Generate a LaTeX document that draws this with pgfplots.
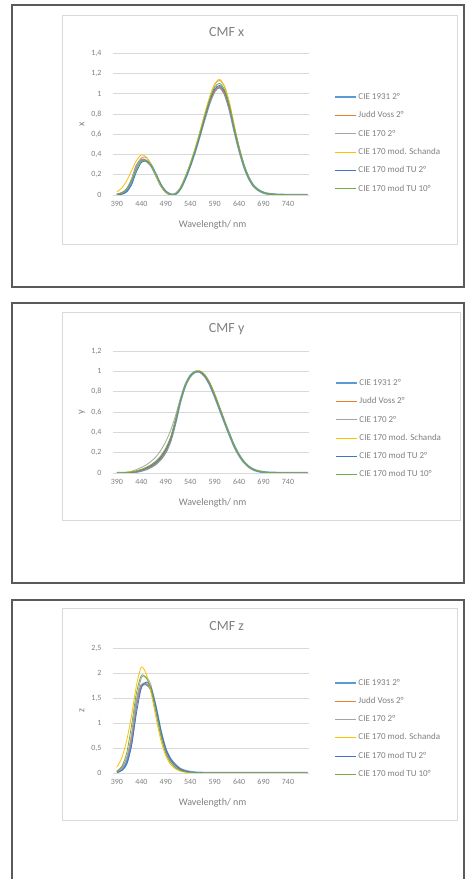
\documentclass[border=0pt]{standalone}
\usepackage{fontspec}
\setmainfont{Carlito}
\usepackage{pgfplots}
\usepackage{pgfplotstable}
\pgfplotsset{compat=1.18}
\definecolor{c1}{HTML}{5B9BD5}
\definecolor{c2}{HTML}{ED7D31}
\definecolor{c3}{HTML}{A5A5A5}
\definecolor{c4}{HTML}{FFC000}
\definecolor{c5}{HTML}{4472C4}
\definecolor{c6}{HTML}{70AD47}
\definecolor{gridgray}{HTML}{D9D9D9}
\definecolor{txtgray}{HTML}{808080}
\definecolor{boxgray}{HTML}{5A5A5A}

% columns: lam, CIE1931, JuddVoss, CIE170, Schanda, TU2, TU10
\pgfplotstableread{
lam a b c d e f
390 0.0042 0.0080 0.0038 0.0300 0.0020 0.0050
400 0.0143 0.0250 0.0190 0.0700 0.0080 0.0200
410 0.0435 0.0600 0.0640 0.1400 0.0300 0.0600
420 0.1344 0.1450 0.1600 0.2400 0.1000 0.1400
430 0.2839 0.2880 0.2800 0.3400 0.2300 0.2500
440 0.3483 0.3500 0.3650 0.3950 0.3200 0.3300
450 0.3362 0.3370 0.3700 0.3750 0.3350 0.3400
460 0.2908 0.2910 0.3050 0.3000 0.2950 0.2950
470 0.1954 0.1955 0.2000 0.1900 0.2050 0.2000
480 0.0956 0.0957 0.0950 0.0900 0.1050 0.0980
490 0.0320 0.0320 0.0300 0.0280 0.0380 0.0330
500 0.0049 0.0049 0.0040 0.0040 0.0060 0.0050
510 0.0093 0.0093 0.0110 0.0110 0.0080 0.0100
520 0.0633 0.0633 0.0700 0.0700 0.0580 0.0650
530 0.1655 0.1655 0.1750 0.1760 0.1600 0.1700
540 0.2904 0.2904 0.3050 0.3060 0.2850 0.2980
550 0.4334 0.4334 0.4550 0.4570 0.4300 0.4450
560 0.5945 0.5945 0.6250 0.6280 0.5950 0.6100
570 0.7621 0.7621 0.8000 0.8050 0.7700 0.7850
580 0.9163 0.9163 0.9650 0.9700 0.9300 0.9450
590 1.0263 1.0263 1.0900 1.0950 1.0450 1.0650
600 1.0622 1.0622 1.1300 1.1400 1.0800 1.1000
610 1.0026 1.0026 1.0700 1.0750 1.0250 1.0400
620 0.8545 0.8545 0.9100 0.9150 0.8750 0.8850
630 0.6424 0.6424 0.6850 0.6880 0.6600 0.6650
640 0.4479 0.4479 0.4700 0.4720 0.4600 0.4600
650 0.2835 0.2835 0.2950 0.2960 0.2900 0.2900
660 0.1649 0.1649 0.1700 0.1710 0.1680 0.1680
670 0.0874 0.0874 0.0900 0.0900 0.0890 0.0890
680 0.0468 0.0468 0.0470 0.0470 0.0470 0.0470
690 0.0227 0.0227 0.0230 0.0230 0.0230 0.0230
700 0.0114 0.0114 0.0110 0.0110 0.0115 0.0115
720 0.0029 0.0029 0.0030 0.0030 0.0030 0.0030
750 0.0003 0.0003 0.0003 0.0003 0.0003 0.0003
780 0.0000 0.0000 0.0000 0.0000 0.0000 0.0000
}\tabx

\pgfplotstableread{
lam a b c d e f
390 0.0001 0.0003 0.0004 0.0010 0.0002 0.0003
400 0.0004 0.0010 0.0020 0.0030 0.0008 0.0012
410 0.0012 0.0026 0.0070 0.0070 0.0025 0.0035
420 0.0040 0.0060 0.0175 0.0130 0.0070 0.0090
430 0.0116 0.0130 0.0340 0.0230 0.0160 0.0190
440 0.0230 0.0240 0.0550 0.0370 0.0300 0.0350
450 0.0380 0.0390 0.0800 0.0550 0.0480 0.0550
460 0.0600 0.0600 0.1150 0.0800 0.0720 0.0820
470 0.0910 0.0910 0.1600 0.1150 0.1050 0.1180
480 0.1390 0.1390 0.2250 0.1650 0.1550 0.1700
490 0.2080 0.2080 0.3100 0.2400 0.2300 0.2450
500 0.3230 0.3230 0.4200 0.3500 0.3400 0.3550
510 0.5030 0.5030 0.5650 0.5200 0.5100 0.5200
520 0.7100 0.7100 0.7300 0.7150 0.7100 0.7150
530 0.8620 0.8620 0.8600 0.8600 0.8600 0.8620
540 0.9540 0.9540 0.9450 0.9500 0.9500 0.9520
550 0.9950 0.9950 0.9900 0.9950 0.9930 0.9950
560 0.9950 0.9950 1.0000 1.0050 0.9980 1.0000
570 0.9520 0.9520 0.9650 0.9650 0.9580 0.9620
580 0.8700 0.8700 0.8900 0.8850 0.8780 0.8830
590 0.7570 0.7570 0.7800 0.7750 0.7650 0.7720
600 0.6310 0.6310 0.6500 0.6450 0.6380 0.6420
610 0.5030 0.5030 0.5150 0.5120 0.5080 0.5100
620 0.3810 0.3810 0.3850 0.3850 0.3830 0.3840
630 0.2650 0.2650 0.2700 0.2680 0.2660 0.2680
640 0.1750 0.1750 0.1780 0.1760 0.1760 0.1770
650 0.1070 0.1070 0.1090 0.1080 0.1080 0.1080
660 0.0610 0.0610 0.0620 0.0620 0.0615 0.0620
670 0.0320 0.0320 0.0330 0.0320 0.0322 0.0325
680 0.0170 0.0170 0.0170 0.0170 0.0170 0.0170
690 0.0082 0.0082 0.0083 0.0082 0.0082 0.0082
700 0.0041 0.0041 0.0041 0.0041 0.0041 0.0041
720 0.0010 0.0010 0.0010 0.0010 0.0010 0.0010
750 0.0001 0.0001 0.0001 0.0001 0.0001 0.0001
780 0.0000 0.0000 0.0000 0.0000 0.0000 0.0000
}\taby

\pgfplotstableread{
lam a b c d e f
390 0.0201 0.0400 0.0170 0.1200 0.0100 0.0300
400 0.0679 0.1200 0.0880 0.3000 0.0500 0.1300
410 0.2074 0.3000 0.3000 0.6500 0.1800 0.4000
420 0.6456 0.7000 0.7800 1.1500 0.5500 0.9500
430 1.3856 1.3900 1.4500 1.7500 1.2000 1.6000
440 1.7471 1.7500 1.9000 2.1200 1.7000 1.9500
450 1.7721 1.7800 1.9200 1.9800 1.8200 1.9000
460 1.6692 1.6700 1.7500 1.6000 1.7000 1.6800
470 1.2876 1.2880 1.2500 1.1000 1.3200 1.2200
480 0.8130 0.8130 0.7500 0.6500 0.8500 0.7500
490 0.4652 0.4652 0.4100 0.3400 0.4800 0.4000
500 0.2720 0.2720 0.2200 0.1700 0.2700 0.2100
510 0.1582 0.1582 0.1150 0.0800 0.1500 0.1050
520 0.0783 0.0783 0.0550 0.0350 0.0750 0.0500
530 0.0422 0.0422 0.0260 0.0150 0.0380 0.0240
540 0.0203 0.0203 0.0120 0.0060 0.0180 0.0110
550 0.0088 0.0088 0.0055 0.0025 0.0080 0.0050
560 0.0039 0.0039 0.0025 0.0010 0.0035 0.0020
570 0.0021 0.0021 0.0010 0.0000 0.0015 0.0000
580 0.0017 0.0017 0.0005 0.0000 0.0008 0.0000
590 0.0011 0.0011 0.0000 0.0000 0.0000 0.0000
600 0.0008 0.0008 0.0000 0.0000 0.0000 0.0000
610 0.0003 0.0003 0.0000 0.0000 0.0000 0.0000
620 0.0002 0.0002 0.0000 0.0000 0.0000 0.0000
630 0.0000 0.0000 0.0000 0.0000 0.0000 0.0000
640 0.0000 0.0000 0.0000 0.0000 0.0000 0.0000
650 0.0000 0.0000 0.0000 0.0000 0.0000 0.0000
660 0.0000 0.0000 0.0000 0.0000 0.0000 0.0000
670 0.0000 0.0000 0.0000 0.0000 0.0000 0.0000
680 0.0000 0.0000 0.0000 0.0000 0.0000 0.0000
690 0.0000 0.0000 0.0000 0.0000 0.0000 0.0000
700 0.0000 0.0000 0.0000 0.0000 0.0000 0.0000
720 0.0000 0.0000 0.0000 0.0000 0.0000 0.0000
750 0.0000 0.0000 0.0000 0.0000 0.0000 0.0000
780 0.0000 0.0000 0.0000 0.0000 0.0000 0.0000
}\tabz

\pgfplotsset{
  cmf/.style={
    scale only axis, width=196pt,
    xmin=382, xmax=783, ymin=0,
    enlargelimits=false,
    xtick={390,440,490,540,590,640,690,740},
    axis line style={draw=none},
    tick style={draw=none},
    ymajorgrids, grid style={color=gridgray, line width=0.6pt},
    ticklabel style={font=\fontsize{8}{9}\selectfont, text=txtgray},
    /pgf/number format/use comma,
    /pgf/number format/fixed,
    /pgf/number format/assume math mode=true,
    xticklabel shift=3pt,
    yticklabel shift=8pt,
    label style={font=\fontsize{10}{11}\selectfont, text=txtgray},
    xlabel={Wavelength/ nm},
    xlabel style={at={(axis description cs:0.508,0)}, yshift=-30pt, anchor=center},
    ylabel style={at={(axis description cs:-0.158,0.5)}, anchor=center},
    every axis title shift=0pt,
    title style={font=\fontsize{14}{16}\selectfont, text=txtgray, anchor=center},
    legend cell align=left,
    legend style={draw=none, fill=none, font=\fontsize{9}{10}\selectfont, text=txtgray,
      anchor=west, inner xsep=0pt, inner ysep=0pt, row sep=7.8pt,
      nodes={inner sep=1pt, text height=6.5pt, text depth=2pt}},
    legend image code/.code={\draw[#1] (0pt,0pt) -- (21pt,0pt);},
    every axis plot/.append style={smooth, tension=0.45},
  },
  s1/.style={c1, line width=2.2pt},
  s2/.style={c2, line width=0.8pt},
  s3/.style={c3, line width=0.8pt},
  s4/.style={c4, line width=0.8pt},
  s5/.style={c5, line width=0.8pt},
  s6/.style={c6, line width=0.8pt},
}

\begin{document}
\begin{tikzpicture}
\useasboundingbox (0pt,0pt) rectangle (465pt,879pt);
\fill[white] (0pt,0pt) rectangle (465pt,879pt);
% outer boxes
\draw[boxgray, line width=1.4pt] (12pt,874pt) rectangle (464pt,592pt);
\draw[boxgray, line width=1.4pt] (12pt,576pt) rectangle (464pt,296pt);
\draw[boxgray, line width=1.4pt] (12pt,-5pt) -- (12pt,279pt) -- (464pt,279pt) -- (464pt,-5pt);
% chart areas
\draw[gridgray, line width=0.7pt] (62pt,864pt) rectangle (457pt,635pt);
\draw[gridgray, line width=0.7pt] (62pt,567pt) rectangle (460pt,359pt);
\draw[gridgray, line width=0.7pt] (62pt,271pt) rectangle (457pt,59pt);

% ---------- CMF x
\begin{axis}[cmf, at={(113pt,684pt)}, anchor=south west, height=142pt,
  ymax=1.4, ytick={0,0.2,0.4,0.6,0.8,1,1.2,1.4},
  title={CMF x}, title style={at={(axis description cs:0.58,1.148)}},
  ylabel={x},
  legend style={at={(axis description cs:1.128,0.366)}}]
\addplot[s1] table[x=lam,y=a]{\tabx};
\addplot[s2] table[x=lam,y=b]{\tabx};
\addplot[s3] table[x=lam,y=c]{\tabx};
\addplot[s4] table[x=lam,y=d]{\tabx};
\addplot[s5] table[x=lam,y=e]{\tabx};
\addplot[s6] table[x=lam,y=f]{\tabx};
\legend{CIE 1931 2°, Judd Voss 2°, CIE 170 2°, CIE 170 mod. Schanda, CIE 170 mod TU 2°, CIE 170 mod TU 10°}
\end{axis}

% ---------- CMF y
\begin{axis}[cmf, at={(113pt,406pt)}, anchor=south west, height=122pt,
  ymax=1.2, ytick={0,0.2,0.4,0.6,0.8,1,1.2},
  title={CMF y}, title style={at={(axis description cs:0.58,1.18)}},
  ylabel={y},
  legend style={at={(axis description cs:1.133,0.361)}}]
\addplot[s1] table[x=lam,y=a]{\taby};
\addplot[s2] table[x=lam,y=b]{\taby};
\addplot[s3] table[x=lam,y=c]{\taby};
\addplot[s4] table[x=lam,y=d]{\taby};
\addplot[s5] table[x=lam,y=e]{\taby};
\addplot[s6] table[x=lam,y=f]{\taby};
\legend{CIE 1931 2°, Judd Voss 2°, CIE 170 2°, CIE 170 mod. Schanda, CIE 170 mod TU 2°, CIE 170 mod TU 10°}
\end{axis}

% ---------- CMF z
\begin{axis}[cmf, at={(113pt,106pt)}, anchor=south west, height=125pt,
  ymax=2.5, ytick={0,0.5,1,1.5,2,2.5},
  title={CMF z}, title style={at={(axis description cs:0.58,1.176)}},
  ylabel={z},
  legend style={at={(axis description cs:1.128,0.356)}}]
\addplot[s1] table[x=lam,y=a]{\tabz};
\addplot[s2] table[x=lam,y=b]{\tabz};
\addplot[s3] table[x=lam,y=c]{\tabz};
\addplot[s4] table[x=lam,y=d]{\tabz};
\addplot[s5] table[x=lam,y=e]{\tabz};
\addplot[s6] table[x=lam,y=f]{\tabz};
\legend{CIE 1931 2°, Judd Voss 2°, CIE 170 2°, CIE 170 mod. Schanda, CIE 170 mod TU 2°, CIE 170 mod TU 10°}
\end{axis}
\end{tikzpicture}
\end{document}
